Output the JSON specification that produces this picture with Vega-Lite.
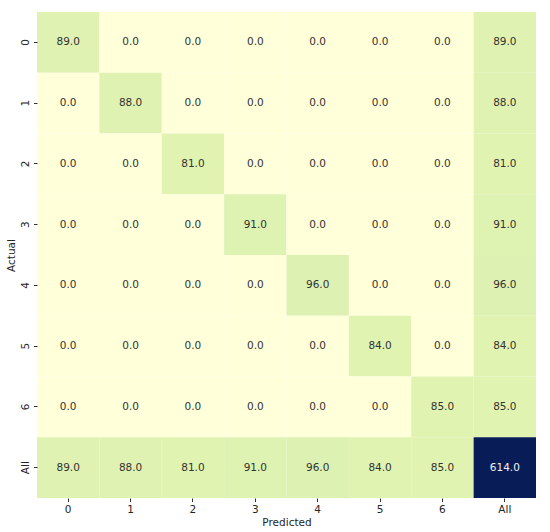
{
  "$schema": "https://vega.github.io/schema/vega-lite/v6.json",
  "width": 499,
  "height": 486,
  "autosize": "none",
  "padding": {"left": 37, "top": 12, "right": 14, "bottom": 34},
  "background": "white",
  "config": {"view": {"stroke": null}, "font": "DejaVu Sans"},
  "data": {"values": [
    {"a":"0","p":"0","v":89},{"a":"0","p":"1","v":0},{"a":"0","p":"2","v":0},{"a":"0","p":"3","v":0},{"a":"0","p":"4","v":0},{"a":"0","p":"5","v":0},{"a":"0","p":"6","v":0},{"a":"0","p":"All","v":89},
    {"a":"1","p":"0","v":0},{"a":"1","p":"1","v":88},{"a":"1","p":"2","v":0},{"a":"1","p":"3","v":0},{"a":"1","p":"4","v":0},{"a":"1","p":"5","v":0},{"a":"1","p":"6","v":0},{"a":"1","p":"All","v":88},
    {"a":"2","p":"0","v":0},{"a":"2","p":"1","v":0},{"a":"2","p":"2","v":81},{"a":"2","p":"3","v":0},{"a":"2","p":"4","v":0},{"a":"2","p":"5","v":0},{"a":"2","p":"6","v":0},{"a":"2","p":"All","v":81},
    {"a":"3","p":"0","v":0},{"a":"3","p":"1","v":0},{"a":"3","p":"2","v":0},{"a":"3","p":"3","v":91},{"a":"3","p":"4","v":0},{"a":"3","p":"5","v":0},{"a":"3","p":"6","v":0},{"a":"3","p":"All","v":91},
    {"a":"4","p":"0","v":0},{"a":"4","p":"1","v":0},{"a":"4","p":"2","v":0},{"a":"4","p":"3","v":0},{"a":"4","p":"4","v":96},{"a":"4","p":"5","v":0},{"a":"4","p":"6","v":0},{"a":"4","p":"All","v":96},
    {"a":"5","p":"0","v":0},{"a":"5","p":"1","v":0},{"a":"5","p":"2","v":0},{"a":"5","p":"3","v":0},{"a":"5","p":"4","v":0},{"a":"5","p":"5","v":84},{"a":"5","p":"6","v":0},{"a":"5","p":"All","v":84},
    {"a":"6","p":"0","v":0},{"a":"6","p":"1","v":0},{"a":"6","p":"2","v":0},{"a":"6","p":"3","v":0},{"a":"6","p":"4","v":0},{"a":"6","p":"5","v":0},{"a":"6","p":"6","v":85},{"a":"6","p":"All","v":85},
    {"a":"All","p":"0","v":89},{"a":"All","p":"1","v":88},{"a":"All","p":"2","v":81},{"a":"All","p":"3","v":91},{"a":"All","p":"4","v":96},{"a":"All","p":"5","v":84},{"a":"All","p":"6","v":85},{"a":"All","p":"All","v":614}
  ]},
  "encoding": {
    "x": {"field": "p", "type": "ordinal", "sort": ["0","1","2","3","4","5","6","All"],
      "scale": {"paddingInner": 0, "paddingOuter": 0},
      "axis": {"title": "Predicted", "labelAngle": 0, "domain": false, "tickSize": 3.5, "tickColor": "#333333",
        "labelFontSize": 10.5, "labelColor": "#262626", "labelPadding": 3, "titleFontSize": 10.5, "titleFontWeight": "normal", "titleColor": "#262626", "titlePadding": 2}},
    "y": {"field": "a", "type": "ordinal", "sort": ["0","1","2","3","4","5","6","All"],
      "scale": {"paddingInner": 0, "paddingOuter": 0},
      "axis": {"title": "Actual", "labelAngle": 270, "labelAlign": "center", "labelBaseline": "bottom", "domain": false, "tickSize": 3.5, "tickColor": "#333333",
        "labelFontSize": 10.5, "labelColor": "#262626", "labelPadding": 3, "titleFontSize": 10.5, "titleFontWeight": "normal", "titleColor": "#262626", "titlePadding": 4}}
  },
  "layer": [
    {"mark": {"type": "rect"},
     "encoding": {"color": {"field": "v", "type": "quantitative", "legend": null,
       "scale": {"domain": [0, 76.75, 153.5, 230.25, 307, 383.75, 460.5, 537.25, 614],
                 "range": ["#ffffd9", "#e3f4b1", "#c7e9b4", "#7fcdbb", "#41b6c4", "#1d91c0", "#225ea8", "#253494", "#081d58"],
                 "interpolate": "rgb"}}}},
    {"mark": {"type": "text", "fontSize": 10.5},
     "encoding": {"text": {"field": "v", "type": "quantitative", "format": ".1f"},
       "color": {"condition": {"test": "datum.v > 300", "value": "#f0f0f0"}, "value": "#333333"}}}
  ]
}
